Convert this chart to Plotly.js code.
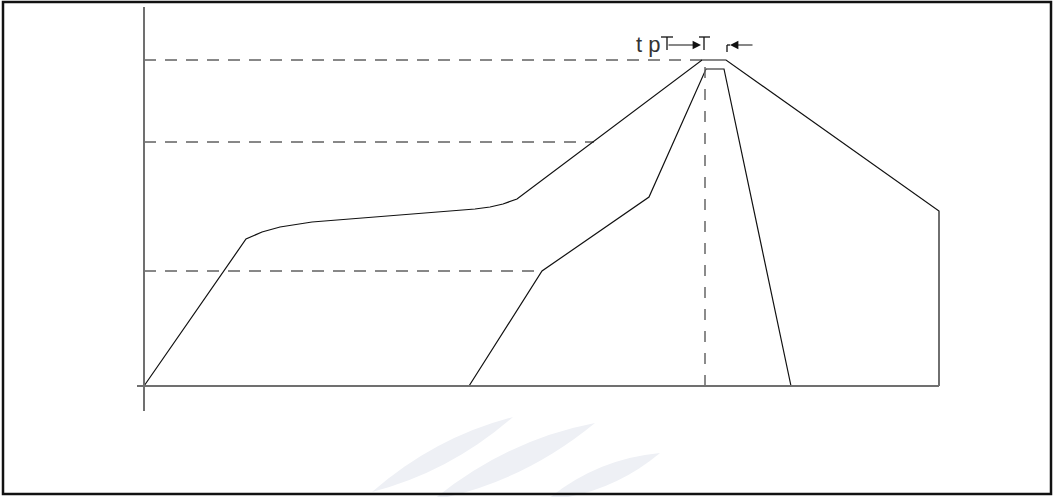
<!DOCTYPE html>
<html>
<head>
<meta charset="utf-8">
<script src="https://cdn.plot.ly/plotly-3.0.1.min.js"></script>
<style>html,body{margin:0;padding:0;background:#fff;}#chart{width:1057px;height:497px;}</style>
</head>
<body>
<div id="chart"></div>
<script>
// Reflow-style temperature profile (schematic units: time, temperature)
const outerTime = [0, 102, 118, 136, 168, 256, 331, 346, 359, 373, 558, 582, 795, 795];
const outerTemp = [0, 147, 154, 159, 164, 171, 177, 179, 182, 187, 326, 326, 175, 0];
const innerTime = [325, 398, 505, 562, 580, 647];
const innerTemp = [0, 115, 189, 317, 317, 0];
// dashed reference levels and the time where each dashed line stops
const levelTemp = [115, 244, 326];
const levelEnd  = [398, 450, 558];
const peakTime = 561;
const labelText = "t p";

const W = 1057, H = 497, OX = 144, OY = 386;
const px = function (x) { return x - OX; };   // pixel -> data helpers for decorations
const py = function (y) { return OY - y; };

const traces = [
  {x: outerTime, y: outerTemp, mode: 'lines', line: {color: '#111', width: 1.2}, hoverinfo: 'skip'},
  {x: innerTime, y: innerTemp, mode: 'lines', line: {color: '#111', width: 1.2}, hoverinfo: 'skip'}
];

const shapes = [];
// watermark leaves
function leaf(p1, c1, p2, c2) {
  return {type: 'path', xref: 'x', yref: 'y', layer: 'below',
    path: 'M' + px(p1[0]) + ',' + py(p1[1]) + ' Q' + px(c1[0]) + ',' + py(c1[1]) + ' ' + px(p2[0]) + ',' + py(p2[1]) +
          ' Q' + px(c2[0]) + ',' + py(c2[1]) + ' ' + px(p1[0]) + ',' + py(p1[1]) + ' Z',
    fillcolor: '#eef0f5', line: {width: 0}};
}
shapes.push(leaf([372, 492], [450, 472], [513, 417], [435, 437]));
shapes.push(leaf([433, 500], [522, 483], [595, 423], [506, 440]));
shapes.push(leaf([547, 500], [611, 494], [660, 453], [596, 459]));

// dashed levels
levelTemp.forEach(function (t, i) {
  shapes.push({type: 'line', xref: 'x', yref: 'y', x0: 0, x1: levelEnd[i], y0: t, y1: t,
    line: {color: '#111', width: 1, dash: '12px,9px'}});
});
// dashed peak time line
shapes.push({type: 'line', xref: 'x', yref: 'y', x0: peakTime, x1: peakTime, y0: 0, y1: levelTemp[2] - 6,
  line: {color: '#666', width: 1.5, dash: '11px,11px'}});

// axes
shapes.push({type: 'line', xref: 'x', yref: 'y', x0: 0, x1: 0, y0: py(411), y1: py(7), line: {color: '#707070', width: 2}});
shapes.push({type: 'line', xref: 'x', yref: 'y', x0: px(137), x1: outerTime[outerTime.length - 1], y0: 0, y1: 0, line: {color: '#707070', width: 2}});

// dimension marks for tp
function seg(x0, y0, x1, y1) {
  shapes.push({type: 'line', xref: 'x', yref: 'y', x0: px(x0), y0: py(y0), x1: px(x1), y1: py(y1), line: {color: '#111', width: 1.3}});
}
seg(667, 37, 667, 50); seg(661, 37, 673, 37);
seg(704, 37, 704, 50); seg(699, 37, 710, 37);
seg(727, 45, 727, 52); seg(727, 45, 730, 45);

// outer frame
shapes.push({type: 'rect', xref: 'x', yref: 'y', x0: px(3), x1: px(1051), y0: py(2), y1: py(494),
  line: {color: '#111', width: 2.5}});

const annotations = [
  {x: px(648), y: py(44), xref: 'x', yref: 'y', text: labelText, showarrow: false,
   font: {family: 'Liberation Sans, Arial, sans-serif', size: 22, color: '#333'}},
  {x: px(701), y: py(45), ax: px(667), ay: py(45), xref: 'x', yref: 'y', axref: 'x', ayref: 'y',
   text: '', showarrow: true, arrowhead: 2, arrowsize: 1.4, arrowwidth: 1.2, arrowcolor: '#111'},
  {x: px(730), y: py(45), ax: px(754), ay: py(45), xref: 'x', yref: 'y', axref: 'x', ayref: 'y',
   text: '', showarrow: true, arrowhead: 2, arrowsize: 1.4, arrowwidth: 1.2, arrowcolor: '#111'}
];

const layout = {
  width: W, height: H,
  margin: {l: 0, r: 0, t: 0, b: 0, pad: 0},
  paper_bgcolor: '#fff', plot_bgcolor: '#fff',
  showlegend: false,
  xaxis: {range: [-OX, W - OX], visible: false, showgrid: false, zeroline: false, fixedrange: true},
  yaxis: {range: [-(H - OY), OY], visible: false, showgrid: false, zeroline: false, fixedrange: true},
  shapes: shapes,
  annotations: annotations
};

Plotly.newPlot('chart', traces, layout, {displayModeBar: false, staticPlot: true});
</script>
</body>
</html>
